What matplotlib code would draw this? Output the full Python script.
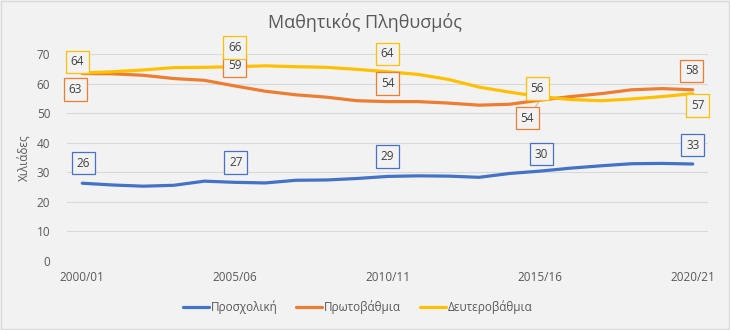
import numpy as np
import matplotlib.pyplot as plt

plt.rcParams['font.family'] = ['Open Sans', 'DejaVu Sans']

# Σχολικά έτη 2000/01 - 2020/21
years = ['2000/01', '2001/02', '2002/03', '2003/04', '2004/05', '2005/06', '2006/07',
         '2007/08', '2008/09', '2009/10', '2010/11', '2011/12', '2012/13', '2013/14',
         '2014/15', '2015/16', '2016/17', '2017/18', '2018/19', '2019/20', '2020/21']
tick_years = ['2000/01', '2005/06', '2010/11', '2015/16', '2020/21']

# χιλιάδες μαθητές
prosxoliki = [26.3, 25.7, 25.3, 25.6, 27.0, 26.6, 26.4, 27.3, 27.4, 27.9, 28.6,
              28.8, 28.7, 28.3, 29.6, 30.4, 31.4, 32.2, 32.9, 33.0, 32.8]
protovathmia = [63.4, 63.3, 62.8, 61.7, 61.1, 59.2, 57.4, 56.2, 55.4, 54.2, 53.9,
                53.9, 53.4, 52.7, 53.0, 54.4, 55.6, 56.6, 57.9, 58.3, 57.9]
defterovathmia = [63.6, 64.0, 64.6, 65.4, 65.5, 65.7, 66.0, 65.7, 65.5, 64.8, 64.0,
                  63.1, 61.4, 58.8, 57.1, 55.6, 54.6, 54.2, 54.8, 55.6, 56.6]

series_names = ['Προσχολική', 'Πρωτοβάθμια', 'Δευτεροβάθμια']
colors = ['#4472C4', '#ED7D31', '#FFC000']

# θέσεις ετικετών (px) για 2000/01, 2005/06, 2010/11, 2015/16, 2020/21
label_idx = [0, 5, 10, 15, 20]
label_off = [
    [(1, 20), (1, 20), (0, 20), (1, 17), (0, 19)],
    [(-7, -16), (0, 20), (0, 18), (-13, -18), (-1, 19)],
    [(-5, 11), (0, 19), (0, 18), (-3, 8), (5, -12)],
]

fig = plt.figure(figsize=(7.3, 3.3), dpi=100)
fig.patch.set_facecolor('#F2F2F2')
ax = fig.add_axes([67 / 730, 1 - 261 / 330, 641 / 730, 207 / 330])
ax.set_facecolor('#F2F2F2')

x = np.arange(len(years))
all_series = [prosxoliki, protovathmia, defterovathmia]
for s, name, c in zip(all_series, series_names, colors):
    ax.plot(x, s, color=c, lw=2.3, label=name, solid_joinstyle='round',
            solid_capstyle='round', zorder=3)

px = 72 / 100
for k, (s, c) in enumerate(zip(all_series, colors)):
    for j, i in enumerate(label_idx):
        dx, dy = label_off[k][j]
        arrow = None
        if k == 1 and i == 15:
            arrow = dict(arrowstyle='-', color='#BFBFBF', lw=0.8, shrinkA=0, shrinkB=2)
        ax.annotate(str(int(round(s[i]))), (x[i], s[i]), xytext=(dx * px, dy * px),
                    textcoords='offset points', ha='center', va='center',
                    fontsize=8.5, color='#404040', annotation_clip=False,
                    bbox=dict(boxstyle='square,pad=0.4', fc='#F2F2F2', ec=c, lw=0.9),
                    arrowprops=arrow, zorder=5)

ax.set_xlim(-0.5, len(years) - 0.5)
ax.set_ylim(0, 70)
ax.set_yticks(range(0, 71, 10))
ax.set_xticks([years.index(t) for t in tick_years])
ax.set_xticklabels(tick_years)
ax.grid(axis='y', color='#D9D9D9', lw=0.8)
ax.set_axisbelow(True)
for sp in ax.spines.values():
    sp.set_visible(False)
ax.tick_params(length=0, labelsize=8.5, labelcolor='#595959')
ax.tick_params(axis='y', pad=12)
ax.tick_params(axis='x', pad=7)
ax.set_ylabel('Χιλιάδες', fontsize=8.5, color='#595959', labelpad=4)

fig.text(0.5, 1 - 22 / 330, 'Μαθητικός Πληθυσμός', ha='center', va='center',
         fontsize=13, color='#595959')

fig.legend(loc='center', bbox_to_anchor=(0.49, 1 - 307 / 330), ncol=3, frameon=False,
           fontsize=8.5, labelcolor='#595959', handlelength=2.2, handletextpad=0.15,
           columnspacing=1.6)

# περίγραμμα γραφήματος
fig.patches.append(plt.Rectangle((0.001, 0.002), 0.997, 0.995, transform=fig.transFigure,
                                 fill=False, ec='#D9D9D9', lw=1))

fig.savefig('out.png', dpi=100, facecolor=fig.get_facecolor())
